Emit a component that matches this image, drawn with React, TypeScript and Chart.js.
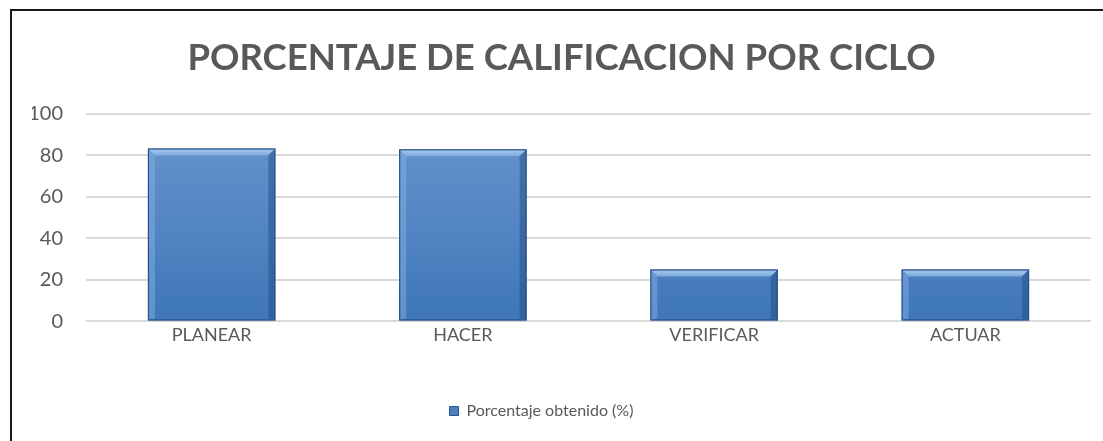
import React, { useEffect, useRef } from "react";
import { Chart, registerables } from "chart.js";

Chart.register(...registerables);

const categories = ["PLANEAR", "HACER", "VERIFICAR", "ACTUAR"];
const seriesLabel = "Porcentaje obtenido (%)";
const seriesValues = [83.3, 82.9, 25, 25];
const titleText = "PORCENTAJE DE CALIFICACION POR CICLO";
const yMin = 0;
const yMax = 100;
const yStep = 20;

const FONT = "Lato, 'Open Sans', sans-serif";
const TEXT = "#595959";

const bevelPlugin = {
  id: "bevel",
  afterDatasetsDraw(chart: any) {
    const ctx = chart.ctx;
    const meta = chart.getDatasetMeta(0);
    meta.data.forEach((bar: any) => {
      const p = bar.getProps(["x", "y", "base", "width"], true);
      const l = p.x - p.width / 2;
      const r = p.x + p.width / 2;
      const t = Math.min(p.y, p.base);
      const b = Math.max(p.y, p.base);
      const bv = 7;
      ctx.save();
      const gt = ctx.createLinearGradient(0, t, 0, t + bv);
      gt.addColorStop(0, "#A9CBF2");
      gt.addColorStop(1, "#7EA9DD");
      ctx.fillStyle = gt;
      ctx.beginPath();
      ctx.moveTo(l, t);
      ctx.lineTo(r, t);
      ctx.lineTo(r - bv, t + bv);
      ctx.lineTo(l + bv, t + bv);
      ctx.closePath();
      ctx.fill();
      ctx.fillStyle = "rgba(140,180,230,0.45)";
      ctx.beginPath();
      ctx.moveTo(l, t);
      ctx.lineTo(l + bv, t + bv);
      ctx.lineTo(l + bv, b - 2);
      ctx.lineTo(l, b);
      ctx.closePath();
      ctx.fill();
      ctx.fillStyle = "rgba(30,70,130,0.45)";
      ctx.beginPath();
      ctx.moveTo(r, t);
      ctx.lineTo(r - bv, t + bv);
      ctx.lineTo(r - bv, b - 2);
      ctx.lineTo(r, b);
      ctx.closePath();
      ctx.fill();
      ctx.strokeStyle = "#2A5586";
      ctx.lineWidth = 1.2;
      ctx.strokeRect(l + 0.5, t + 0.5, r - l - 1, b - t - 1);
      ctx.restore();
    });
  },
};

const legendShiftPlugin = {
  id: "legendShift",
  afterLayout(chart: any) {
    const lg = chart.legend;
    if (lg) {
      lg.left -= 20;
      lg.right -= 20;
    }
  },
};

export default function App() {
  const ref = useRef<HTMLCanvasElement | null>(null);

  useEffect(() => {
    if (!ref.current) return;
    const chart = new Chart(ref.current, {
      type: "bar",
      data: {
        labels: categories,
        datasets: [
          {
            label: seriesLabel,
            data: seriesValues,
            backgroundColor: (ctx: any) => {
              const c = ctx.chart;
              const area = c.chartArea;
              if (!area) return "#4F81BD";
              const g = c.ctx.createLinearGradient(0, area.top, 0, area.bottom);
              g.addColorStop(0, "#6A97D0");
              g.addColorStop(1, "#3E76B8");
              return g;
            },
            borderColor: "#2A5586",
            borderWidth: 0,
            barPercentage: 1,
            categoryPercentage: 0.507,
          },
        ],
      },
      plugins: [bevelPlugin, legendShiftPlugin],
      options: {
        animation: false,
        responsive: false,
        maintainAspectRatio: false,
        layout: { padding: { left: 32, right: 12, top: 20, bottom: 12 } },
        plugins: {
          title: {
            display: true,
            text: titleText,
            color: TEXT,
            font: { family: FONT, size: 36.5, weight: "bold" },
            padding: { top: 16, bottom: 34 },
          },
          legend: {
            display: true,
            position: "bottom",
            labels: {
              color: TEXT,
              font: { family: FONT, size: 16 },
              boxWidth: 9,
              boxHeight: 9,
              padding: 30,
              generateLabels: (chart: any) => {
                const items = Chart.defaults.plugins.legend.labels.generateLabels(chart);
                return items.map((it: any) => ({
                  ...it,
                  fillStyle: "#4A7FC0",
                  strokeStyle: "#2A5586",
                  lineWidth: 1,
                }));
              },
            },
          },
          tooltip: { enabled: false },
        },
        scales: {
          x: {
            grid: { display: false, drawTicks: false },
            border: { display: false },
            ticks: { color: TEXT, font: { family: FONT, size: 18 }, padding: 3 },
            afterFit: (s: any) => {
              s.height += 24;
            },
          },
          y: {
            min: yMin,
            max: yMax,
            ticks: {
              stepSize: yStep,
              color: TEXT,
              font: { family: FONT, size: 20 },
              padding: 23,
            },
            grid: { color: "#D9D9D9", lineWidth: 2, drawTicks: false },
            border: { display: false },
            afterFit: (s: any) => {
              s.width = 54;
            },
          },
        },
      },
    });
    return () => chart.destroy();
  }, []);

  return (
    <div style={{ position: "fixed", left: 0, top: 0, width: 1103, height: 441, background: "#fff" }}>
      <div
        style={{
          position: "absolute",
          left: 10,
          top: 9,
          right: 0,
          bottom: 0,
          borderTop: "2px solid #1a1a1a",
          borderLeft: "2px solid #1a1a1a",
        }}
      />
      <canvas ref={ref} width={1103} height={441} style={{ position: "absolute", left: 0, top: 0 }} />
    </div>
  );
}
